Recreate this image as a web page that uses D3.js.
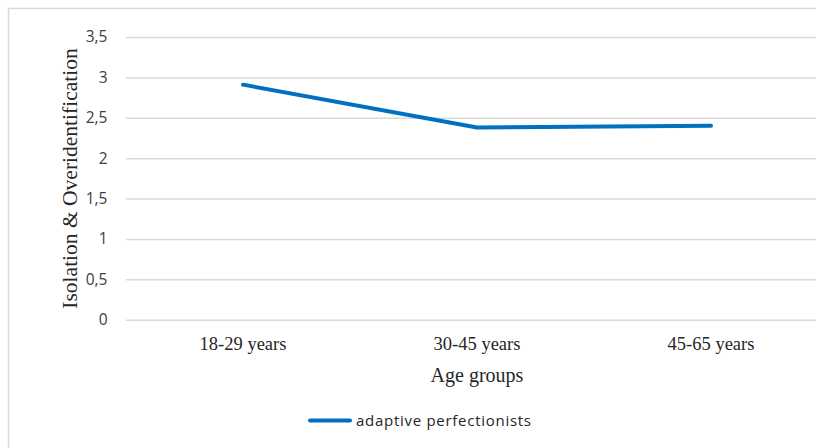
<!DOCTYPE html>
<html>
<head>
<meta charset="utf-8">
<script src="https://cdn.jsdelivr.net/npm/d3@7/dist/d3.min.js"></script>
<style>
  html, body { margin: 0; padding: 0; background: #fff; }
  svg { display: block; }
</style>
</head>
<body>
<svg id="chart" width="816" height="448"></svg>
<script>
const categories = ["18-29 years", "30-45 years", "45-65 years"];
const seriesName = "adaptive perfectionists";
const values = [2.91, 2.38, 2.40];
const yTicks = [0, 0.5, 1, 1.5, 2, 2.5, 3, 3.5];
const yTickLabels = ["0", "0,5", "1", "1,5", "2", "2,5", "3", "3,5"];
const xTitle = "Age groups";
const yTitle = "Isolation & Overidentification";

const svg = d3.select("#chart");
const W = 816, H = 448;
svg.append("rect").attr("width", W).attr("height", H).attr("fill", "#fff");
// outer frame
svg.append("path").attr("d", "M8.5,448 V8.5 H816")
  .attr("fill", "none").attr("stroke", "#d9d9d9").attr("stroke-width", 1.5);

const x = d3.scaleBand().domain(categories).range([126, 828]).padding(0);
const y = d3.scaleLinear().domain([0, 3.5]).range([319.7, 37]);

// gridlines + y tick labels
const yAxis = d3.axisLeft(y).tickValues(yTicks)
  .tickFormat((d, i) => yTickLabels[i]).tickSize(0).tickPadding(0);
const gy = svg.append("g").attr("transform", "translate(126,0)").call(yAxis);
gy.select(".domain").remove();
gy.selectAll(".tick text")
  .attr("x", -18.5)
  .attr("font-family", "'Open Sans', sans-serif")
  .attr("font-size", 15.5)
  .attr("fill", "#404040");
gy.selectAll(".tick").append("line")
  .attr("x1", 0).attr("x2", 828 - 126)
  .attr("stroke", "#d9d9d9").attr("stroke-width", 1.5);

// x axis labels
const xAxis = d3.axisBottom(x).tickSize(0).tickPadding(0);
const gx = svg.append("g").attr("transform", "translate(0,319.7)").call(xAxis);
gx.select(".domain").remove();
gx.selectAll(".tick text")
  .attr("y", 30).attr("dy", 0)
  .attr("font-family", "'Liberation Serif', 'Times New Roman', serif")
  .attr("font-size", 18.5)
  .attr("fill", "#262626");

// line
const line = d3.line()
  .x((d, i) => x(categories[i]) + x.bandwidth() / 2)
  .y(d => y(d));
svg.append("path").datum(values)
  .attr("d", line)
  .attr("fill", "none")
  .attr("stroke", "#0070c0")
  .attr("stroke-width", 4)
  .attr("stroke-linecap", "round")
  .attr("stroke-linejoin", "round");

// titles
svg.append("text")
  .attr("x", 477).attr("y", 382)
  .attr("text-anchor", "middle")
  .attr("font-family", "'Liberation Serif', 'Times New Roman', serif")
  .attr("font-size", 20)
  .attr("fill", "#262626")
  .text(xTitle);

svg.append("text")
  .attr("transform", "translate(77,178.5) rotate(-90)")
  .attr("text-anchor", "middle")
  .attr("font-family", "'Liberation Serif', 'Times New Roman', serif")
  .attr("font-size", 21.5)
  .attr("fill", "#262626")
  .text(yTitle);

// legend
svg.append("line")
  .attr("x1", 310).attr("x2", 350).attr("y1", 420.5).attr("y2", 420.5)
  .attr("stroke", "#0070c0").attr("stroke-width", 4).attr("stroke-linecap", "round");
svg.append("text")
  .attr("x", 356).attr("y", 426)
  .attr("font-family", "'Open Sans', sans-serif")
  .attr("font-size", 15)
  .attr("fill", "#262626")
  .attr("textLength", 175).attr("lengthAdjust", "spacing")
  .text(seriesName);
</script>
</body>
</html>
